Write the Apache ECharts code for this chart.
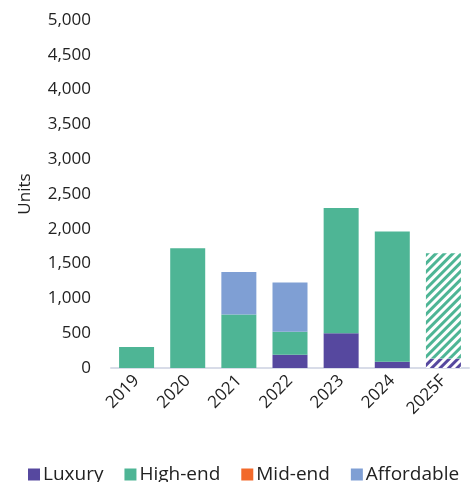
<!DOCTYPE html>
<html>
<head>
<meta charset="utf-8">
<script src="https://cdn.jsdelivr.net/npm/echarts@6/dist/echarts.min.js"></script>
<style>
  html, body { margin: 0; padding: 0; background: #fff; }
  #chart { width: 472px; height: 482px; }
</style>
</head>
<body>
<div id="chart"></div>
<script>
// chart data
const years = ['2019', '2020', '2021', '2022', '2023', '2024', '2025F']
const luxury = [0, 0, 0, 190, 500, 90, 135]
const highEnd = [300, 1720, 770, 330, 1800, 1870, 1515]
const midEnd = [0, 0, 0, 0, 0, 0, 0]
const affordable = [0, 0, 610, 710, 0, 0, 0]
const forecastIndex = 6

const colors = {
  luxury: '#56489f',
  highEnd: '#4eb595',
  midEnd: '#f2692a',
  affordable: '#7f9fd4'
}

const font = 'Open Sans'

// forecast bar is hatched: white fill with a diagonal stripe pattern
function withHatch(values, color) {
  return values.map((v, i) => {
    if (i !== forecastIndex) return v
    return {
      value: v,
      itemStyle: {
        color: '#fff',
        decal: {
          symbol: 'rect',
          color: color,
          dashArrayX: [1, 0],
          dashArrayY: [3, 3],
          symbolSize: 1,
          rotation: -Math.PI / 4
        }
      }
    }
  })
}

function makeSeries(name, values, color) {
  return {
    name: name,
    type: 'bar',
    stack: 'units',
    barWidth: 35,
    itemStyle: { color: color },
    data: withHatch(values, color),
    animation: false
  }
}

const chart = echarts.init(document.getElementById('chart'))

chart.setOption({
  textStyle: { fontFamily: font },
  grid: {
    left: 111,
    right: 3,
    top: 20,
    bottom: 114
  },
  legend: {
    top: 460,
    left: 23,
    itemWidth: 12,
    itemHeight: 12,
    itemGap: 21,
    icon: 'rect',
    textStyle: { fontSize: 19, color: '#222', fontFamily: font, padding: [0, 0, 0, -2] },
    data: ['Luxury', 'High-end', 'Mid-end', 'Affordable']
  },
  xAxis: {
    type: 'category',
    data: years,
    axisLine: { lineStyle: { color: '#d8dce8', width: 2 } },
    axisTick: { show: false },
    axisLabel: {
      rotate: 45,
      fontSize: 17,
      color: '#222',
      margin: 10
    }
  },
  yAxis: {
    type: 'value',
    min: 0,
    max: 5000,
    interval: 500,
    name: 'Units',
    nameLocation: 'middle',
    nameGap: 77,
    nameTextStyle: { fontSize: 17, color: '#222' },
    axisLine: { show: false },
    axisTick: { show: false },
    splitLine: { show: false },
    axisLabel: {
      fontSize: 17,
      color: '#222',
      margin: 20,
      formatter: v => v.toLocaleString('en-US')
    }
  },
  series: [
    makeSeries('Luxury', luxury, colors.luxury),
    makeSeries('High-end', highEnd, colors.highEnd),
    makeSeries('Mid-end', midEnd, colors.midEnd),
    makeSeries('Affordable', affordable, colors.affordable)
  ]
})
</script>
</body>
</html>
